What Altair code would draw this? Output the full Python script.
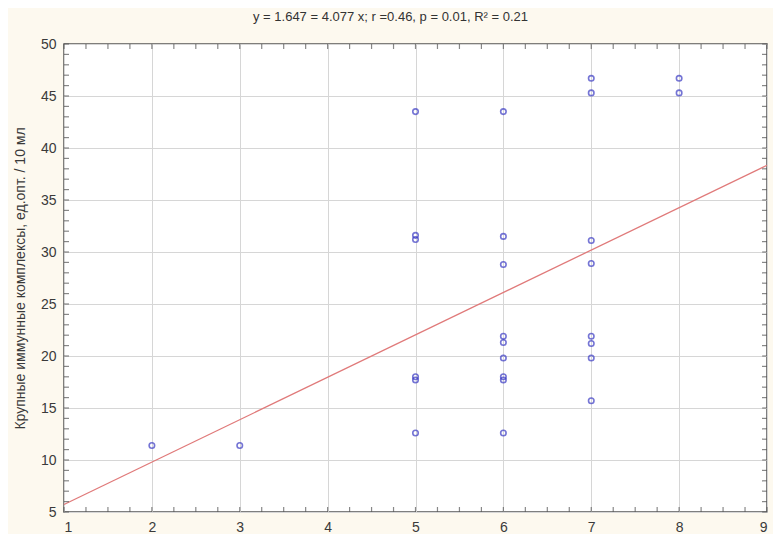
import altair as alt
import pandas as pd

# scatter data
pt_x = [2, 3, 5, 5, 5, 5, 5, 5, 6, 6, 6, 6, 6, 6, 6, 6, 6, 7, 7, 7, 7, 7, 7, 7, 7, 8, 8]
pt_y = [11.4, 11.4, 43.5, 31.6, 31.2, 18.0, 17.7, 12.6,
        43.5, 31.5, 28.8, 21.9, 21.3, 19.8, 18.0, 17.7, 12.6,
        46.7, 45.3, 31.1, 28.9, 21.9, 21.2, 19.8, 15.7,
        46.7, 45.3]

# regression line end points (y = 1.647 + 4.077 x)
line_x = [1, 9]
line_y = [5.72, 38.34]

# axis tick values
x_major = [1, 2, 3, 4, 5, 6, 7, 8, 9]
y_major = [5, 10, 15, 20, 25, 30, 35, 40, 45, 50]
x_minor = [1 + 0.25 * i for i in range(33)]
y_minor = list(range(5, 51))

title_text = "y = 1.647 = 4.077 x; r =0.46, p = 0.01, R² = 0.21"
y_title = "Крупные иммунные комплексы, ед.опт. / 10 мл"

FONT = "Liberation Sans"
xs = alt.Scale(domain=[1, 9], nice=False, zero=False)
ys = alt.Scale(domain=[5, 50], nice=False, zero=False)

pts = pd.DataFrame({"x": pt_x, "y": pt_y})
ln = pd.DataFrame({"x": line_x, "y": line_y})

base_x = alt.X("x:Q", scale=xs,
               axis=alt.Axis(values=x_major, grid=True, gridColor="#d6d6d6", ticks=False,
                             domain=False, labelFontSize=14, labelColor="#3a3a3a",
                             labelFont=FONT, labelPadding=8, title=None, format="d"))
base_y = alt.Y("y:Q", scale=ys,
               axis=alt.Axis(values=y_major, grid=True, gridColor="#d6d6d6", ticks=False,
                             domain=False, labelFontSize=14, labelColor="#3a3a3a",
                             labelFont=FONT, labelPadding=8, format="d",
                             title=y_title, titleFontSize=14, titleFont=FONT,
                             titleFontWeight="normal", titleColor="#3a3a3a", titlePadding=13))

points = alt.Chart(pts).mark_point(shape="circle", filled=False, size=30,
                                   stroke="#3b3bc4", strokeWidth=1.6).encode(x=base_x, y=base_y)

reg = alt.Chart(ln).mark_line(color="#e07a7a", strokeWidth=1.3).encode(
    x=alt.X("x:Q", scale=xs), y=alt.Y("y:Q", scale=ys))

tick_color = "#555555"
bx = pd.DataFrame({"x": x_minor, "y": [5] * len(x_minor)})
tx = pd.DataFrame({"x": x_minor, "y": [50] * len(x_minor)})
ly = pd.DataFrame({"x": [1] * len(y_minor), "y": y_minor})
ry = pd.DataFrame({"x": [9] * len(y_minor), "y": y_minor})

def ticks(df, orient, **off):
    return alt.Chart(df).mark_tick(orient=orient, size=5, thickness=1.2,
                                   color=tick_color, **off).encode(
        x=alt.X("x:Q", scale=xs), y=alt.Y("y:Q", scale=ys))

tick_layers = [
    ticks(bx, "vertical", yOffset=-2.5),
    ticks(tx, "vertical", yOffset=2.5),
    ticks(ly, "horizontal", xOffset=2.5),
    ticks(ry, "horizontal", xOffset=-2.5),
]

chart = alt.layer(reg, points, *tick_layers).properties(
    width=703, height=468,
    autosize="none",
    padding={"left": 56, "top": 36, "right": 6, "bottom": 22},
    title=alt.TitleParams(title_text, fontSize=13, font=FONT, fontWeight="normal",
                          color="#333333", anchor="middle", dx=-25, offset=13),
).configure(background="#fdf9ef").configure_view(
    fill="white", stroke="#555555", strokeWidth=1.5)

chart.save("out.html", embed_options={"renderer": "svg", "actions": False})
